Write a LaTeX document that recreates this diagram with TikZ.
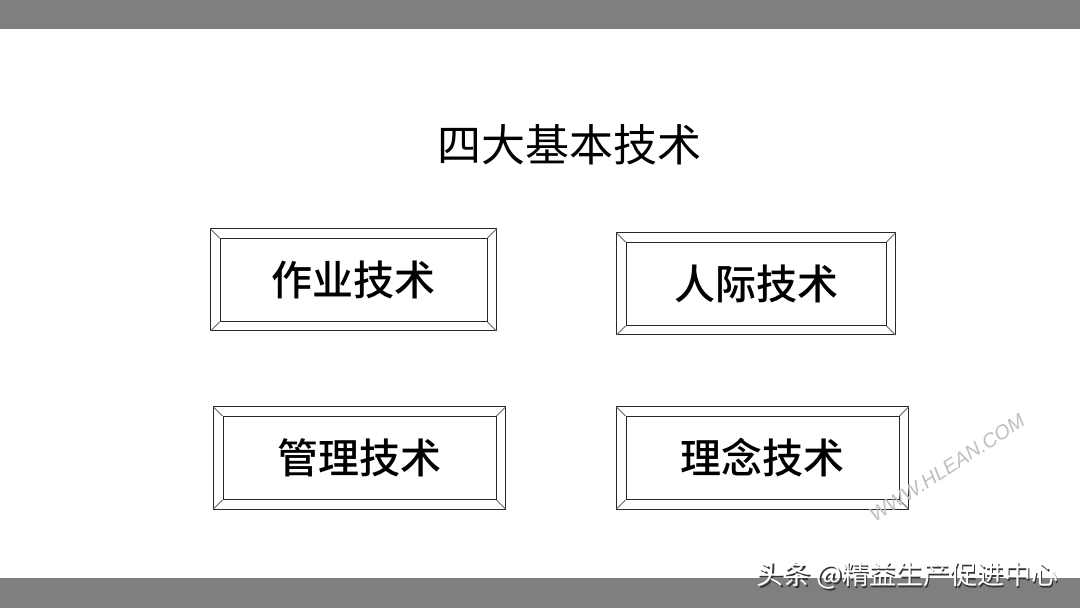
\documentclass[tikz,border=0pt]{standalone}
\usepackage{fontspec}
\newfontfamily\cjk{Noto Sans CJK SC}
\newfontfamily\cjkmed{Noto Sans CJK SC Medium}
\newfontfamily\wmfont{Liberation Sans}
\usetikzlibrary{positioning}
\definecolor{bandgray}{HTML}{7F7F7F}

\begin{document}
\begin{tikzpicture}[
		x=0.5pt, y=-0.5pt,
		band/.style={fill=bandgray, draw=none},
		tech/.style={draw=black!85, line width=0.5pt, inner sep=0pt, minimum height=41.5pt, font=\cjkmed\fontsize{20.5}{24}\selectfont},
		bevel/.style={draw=black!85, line width=0.5pt},
		corner/.style={draw=black!60, line width=0.4pt}
	]
		\useasboundingbox (0,0) rectangle (1080,608);
		\fill[white] (0,0) rectangle (1080,608);
		\path[band] (0,0) rectangle (1080,29);
		\path[band] (0,578) rectangle (1080,608);

		\node[font=\cjk\fontsize{22}{26}\selectfont] (title) at (569,145) {四大基本技术};

		\node[tech, minimum width=133.5pt] (zuoye) at (353.5,280) {作业技术};
		\node[tech, minimum width=130pt] (renji) at (756,284) {人际技术};
		\node[tech, minimum width=136.5pt] (guanli) at (359.5,458) {管理技术};
		\node[tech, minimum width=136.5pt] (linian) at (762.5,458) {理念技术};

		\foreach \n in {zuoye,renji,guanli,linian} {
			\draw[bevel] ([shift={(-4.5pt,4.5pt)}]\n.north west) rectangle ([shift={(4.5pt,-4.5pt)}]\n.south east);
			\draw[corner] (\n.north west) -- ++(-4.5pt,4.5pt);
			\draw[corner] (\n.north east) -- ++(4.5pt,4.5pt);
			\draw[corner] (\n.south west) -- ++(-4.5pt,-4.5pt);
			\draw[corner] (\n.south east) -- ++(4.5pt,-4.5pt);
		}

		\node[rotate=33, text=black!25, font=\wmfont\itshape\fontsize{10}{12}\selectfont] (mark) at (947,468) {WWW.HLEAN.COM};

		\node[text=black!80, font=\cjk\fontsize{13.5}{16}\selectfont] (srcshadow) at (909,577) {头条 @精益生产促进中心};
		\node[text=white, font=\cjk\fontsize{13.5}{16}\selectfont] (src) at (907.5,575.5) {头条 @精益生产促进中心};
	\end{tikzpicture}
\end{document}
